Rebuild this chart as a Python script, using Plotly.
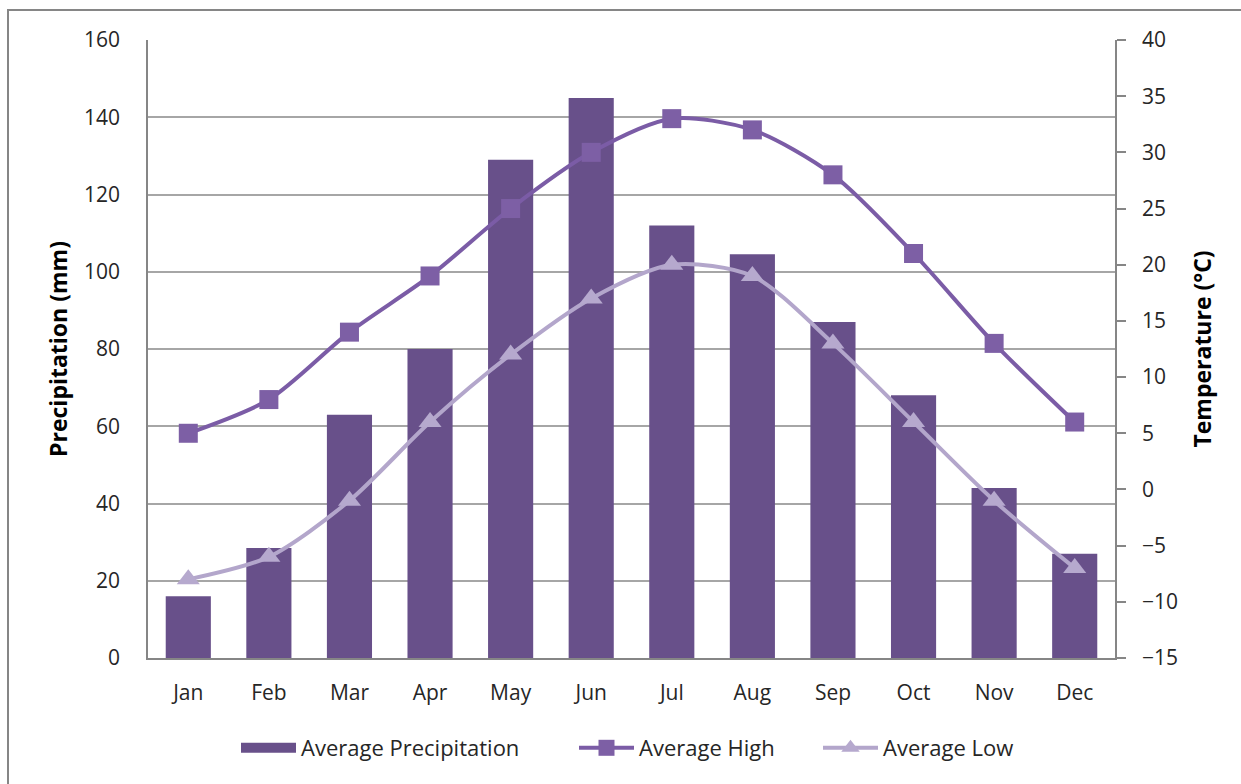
import plotly.graph_objects as go

months = ["Jan", "Feb", "Mar", "Apr", "May", "Jun", "Jul", "Aug", "Sep", "Oct", "Nov", "Dec"]
precip_mm = [16, 28.5, 63, 80, 129, 145, 112, 104.5, 87, 68, 44, 27]
high_c = [5, 8, 14, 19, 25, 30, 33, 32, 28, 21, 13, 6]
low_c = [-8, -6, -1, 6, 12, 17, 20, 19, 13, 6, -1, -7]

W, H = 1241, 784
L, R, T, B = 148, 126, 40, 126
pw, ph = W - L - R, H - T - B

FONT = "Open Sans"
GRID = "#A6A6A6"
AXIS = "#868686"
BAR = "#68508A"
HIGH = "#7B5CA6"
LOW = "#B3A6CB"

fig = go.Figure()
fig.add_trace(go.Bar(
    x=months, y=precip_mm, name="Average Precipitation",
    marker=dict(color=BAR, line=dict(width=0)),
    yaxis="y", showlegend=False,
))
# legend key for the bars drawn as a wide block
fig.add_trace(go.Scatter(
    x=[None], y=[None], name="Average Precipitation", mode="lines",
    line=dict(color=BAR, width=16), yaxis="y", legend="legend",
))
fig.add_trace(go.Scatter(
    x=months, y=high_c, name="Average High", mode="lines+markers",
    line=dict(color=HIGH, width=4, shape="spline", smoothing=0.8),
    marker=dict(symbol="square", size=19, color="#7D5FA5"),
    yaxis="y2", legend="legend2",
))
fig.add_trace(go.Scatter(
    x=months, y=low_c, name="Average Low", mode="lines+markers",
    line=dict(color=LOW, width=4, shape="spline", smoothing=0.8),
    marker=dict(symbol="triangle-up", size=20, color="#B6A9CE"),
    yaxis="y2", legend="legend3",
))

def px_x(p):
    return (p - L) / pw

def px_y(p):
    return (H - B - p) / ph

def legend_at(px):
    return dict(
        orientation="h", x=px_x(px), xanchor="left", y=px_y(748), yanchor="middle",
        font=dict(family=FONT, size=22, color="#262626"),
        itemwidth=55, bgcolor="rgba(0,0,0,0)",
    )

fig.update_layout(
    width=W, height=H,
    margin=dict(l=L, r=R, t=T, b=B),
    paper_bgcolor="white", plot_bgcolor="white",
    font=dict(family=FONT, size=21, color="#262626"),
    bargap=0.44,
    showlegend=True,
    legend=legend_at(236),
    legend2=legend_at(574),
    legend3=legend_at(818),
    xaxis=dict(
        range=[-0.5, 11.5],
        showline=True, linecolor=AXIS, linewidth=1.5, ticks="", showgrid=False,
        tickfont=dict(size=21), ticklabelstandoff=15,
    ),
    yaxis=dict(
        range=[0, 160], dtick=20, showgrid=True, gridcolor=GRID, gridwidth=1.5,
        showline=True, linecolor=AXIS, linewidth=1.5, ticks="", zeroline=False,
        tickfont=dict(size=21), ticklabelstandoff=22,
        title=dict(text="<b>Precipitation (mm)</b>", font=dict(size=23, color="#000000"), standoff=10),
    ),
    yaxis2=dict(
        range=[-15, 40], dtick=5, overlaying="y", side="right", showgrid=False,
        showline=True, linecolor=AXIS, linewidth=1.5, ticks="outside", ticklen=9,
        tickcolor=AXIS, tickwidth=1.5, zeroline=False,
        tickfont=dict(size=21), ticklabelstandoff=12,
        title=dict(text="<b>Temperature (°C)</b>", font=dict(size=23, color="#000000"), standoff=18),
    ),
    shapes=[dict(
        type="rect", xref="paper", yref="paper",
        x0=px_x(8), x1=px_x(1250), y0=px_y(795), y1=px_y(10),
        line=dict(color=AXIS, width=2), fillcolor="rgba(0,0,0,0)", layer="below",
    )],
)

fig.write_html("out.html")
